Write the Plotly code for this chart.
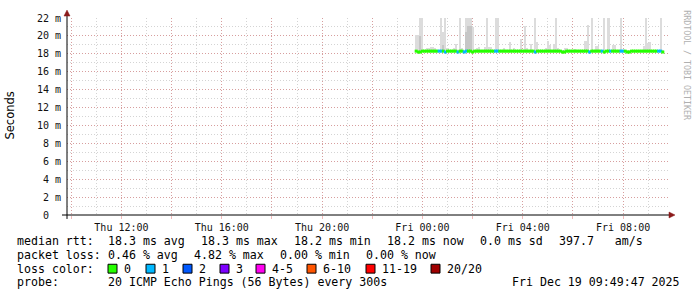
import plotly.graph_objects as go
import pandas as pd

# ---------------- data ----------------
START_TIME = "2025-12-18 23:45:00"
STEP_MIN = 5
X_RANGE = ["2025-12-18 09:49:47", "2025-12-19 09:49:47"]

MEDIAN_MS = [
    18.3, 18.2, 18.2, 18.3, 18.3, 18.3, 18.3, 18.3, 18.3, 18.3, 18.3, 18.3,
    18.3, 18.3, 18.2, 18.3, 18.3, 18.3, 18.3, 18.3, 18.2, 18.3, 18.3, 18.2,
    18.3, 18.3, 18.3, 18.2, 18.3, 18.3, 18.3, 18.3, 18.3, 18.3, 18.3, 18.3,
    18.3, 18.3, 18.3, 18.3, 18.3, 18.3, 18.3, 18.3, 18.3, 18.3, 18.3, 18.3,
    18.3, 18.3, 18.3, 18.3, 18.3, 18.3, 18.3, 18.3, 18.3, 18.2, 18.3, 18.3,
    18.3, 18.3, 18.3, 18.3, 18.3, 18.3, 18.3, 18.3, 18.3, 18.3, 18.2, 18.2,
    18.3, 18.3, 18.3, 18.3, 18.3, 18.3, 18.3, 18.3, 18.3, 18.3, 18.3, 18.2,
    18.3, 18.3, 18.3, 18.3, 18.3, 18.3, 18.2, 18.3, 18.3, 18.3, 18.3, 18.3,
    18.3, 18.3, 18.3, 18.3, 18.3, 18.2, 18.2, 18.3, 18.3, 18.3, 18.3, 18.3,
    18.3, 18.3, 18.3, 18.3, 18.3, 18.3, 18.3, 18.3, 18.3, 18.3, 18.2,
]

LOSS_COUNT = [
    0, 0, 0, 0, 0, 0, 0, 0, 0, 0, 0, 1,
    1, 0, 1, 0, 0, 0, 0, 0, 1, 0, 0, 1,
    1, 0, 0, 0, 0, 0, 0, 0, 0, 0, 0, 0,
    0, 0, 1, 1, 0, 0, 0, 0, 0, 0, 0, 0,
    0, 0, 0, 0, 0, 0, 0, 0, 0, 1, 0, 0,
    0, 0, 0, 0, 0, 0, 0, 0, 0, 0, 0, 0,
    0, 0, 0, 0, 0, 0, 0, 0, 0, 0, 0, 1,
    0, 0, 0, 0, 0, 1, 0, 0, 0, 1, 0, 0,
    0, 0, 1, 1, 0, 0, 0, 0, 0, 0, 0, 0,
    0, 0, 0, 0, 0, 0, 0, 0, 1, 1, 0,
]

SMOKE_MAX_MS = [
    20.1, 20.1, 23.0, 23.0, 18.4, 18.6, 18.6, 18.8, 18.8, 18.6, 18.4, 18.4,
    23.0, 20.4, 23.0, 18.6, 18.4, 18.4, 18.6, 19.1, 18.4, 23.0, 18.7, 18.4,
    23.0, 23.0, 23.0, 21.0, 18.4, 18.6, 18.8, 18.4, 18.4, 18.8, 23.0, 18.8,
    18.8, 18.4, 23.0, 23.0, 18.4, 18.4, 18.6, 18.4, 18.4, 19.3, 18.4, 18.6,
    18.4, 18.4, 19.7, 18.4, 21.1, 18.6, 18.4, 19.1, 18.4, 23.0, 19.3, 18.4,
    18.4, 18.4, 18.6, 19.4, 19.0, 18.4, 19.1, 23.0, 18.6, 18.4, 18.4, 18.6,
    18.6, 18.4, 18.4, 18.4, 18.5, 18.4, 18.4, 18.4, 18.4, 19.4, 21.2, 18.4,
    23.0, 18.4, 18.9, 18.9, 18.4, 18.4, 23.0, 18.4, 23.0, 18.4, 19.0, 19.0,
    18.4, 18.4, 23.0, 18.4, 18.4, 18.4, 18.4, 18.4, 18.4, 18.4, 18.4, 18.4,
    18.4, 18.9, 23.0, 19.2, 19.3, 18.4, 18.4, 18.4, 18.4, 23.0, 18.4,
]

SMOKE_MID_MS = [
    18.3, 18.2, 20.0, 18.3, 18.3, 18.3, 18.3, 18.3, 18.3, 18.3, 18.3, 18.3,
    18.3, 19.0, 18.2, 18.3, 18.3, 18.3, 18.3, 18.3, 18.2, 18.3, 18.3, 18.2,
    20.4, 21.1, 21.1, 18.2, 18.3, 18.3, 18.3, 18.3, 18.3, 18.3, 18.3, 18.3,
    18.3, 18.3, 18.3, 18.3, 18.3, 18.3, 18.3, 18.3, 18.3, 18.3, 18.3, 18.3,
    18.3, 18.3, 18.3, 18.3, 18.3, 18.3, 18.3, 18.3, 18.3, 18.2, 18.3, 18.3,
    18.3, 18.3, 18.3, 18.3, 18.3, 18.3, 18.3, 18.3, 18.3, 18.3, 18.2, 18.2,
    18.3, 18.3, 18.3, 18.3, 18.3, 18.3, 18.3, 18.3, 18.3, 18.3, 18.3, 18.2,
    18.3, 18.3, 18.3, 18.3, 18.3, 18.3, 18.2, 18.3, 18.3, 18.3, 18.3, 18.3,
    18.3, 18.3, 18.3, 18.3, 18.3, 18.2, 18.2, 18.3, 18.3, 18.3, 18.3, 18.3,
    18.3, 18.3, 18.3, 18.3, 18.3, 18.3, 18.3, 18.3, 18.3, 18.3, 18.2,
]

LOSS_LABELS = ["0", "1", "2", "3", "4-5", "6-10", "11-19", "20/20"]
LOSS_UPPER = [0, 1, 2, 3, 5, 10, 19, 20]
LOSS_COLORS = ["#26ff00", "#00b8ff", "#0059ff", "#7e00ff", "#ff00f0",
               "#ff5500", "#ff0000", "#a00000"]

Y_TICKS = [0, 2, 4, 6, 8, 10, 12, 14, 16, 18, 20, 22]
Y_TICK_LABELS = ["0\u00a0\u00a0", "2 m", "4 m", "6 m", "8 m", "10 m", "12 m",
                 "14 m", "16 m", "18 m", "20 m", "22 m"]

X_TICKS = ["2025-12-18 10:00", "2025-12-18 12:00", "2025-12-18 14:00",
           "2025-12-18 16:00", "2025-12-18 18:00", "2025-12-18 20:00",
           "2025-12-18 22:00", "2025-12-19 00:00", "2025-12-19 02:00",
           "2025-12-19 04:00", "2025-12-19 06:00", "2025-12-19 08:00"]
X_TICK_LABELS = ["", "Thu 12:00", "", "Thu 16:00", "", "Thu 20:00",
                 "", "Fri 00:00", "", "Fri 04:00", "", "Fri 08:00"]

STATS_RTT = ["median rtt:", "18.3 ms avg", "18.3 ms max", "18.2 ms min",
             "18.2 ms now", "0.0 ms sd", "397.7   am/s"]
STATS_LOSS = ["packet loss:", "0.46 % avg", "4.82 % max", "0.00 % min",
              "0.00 % now"]
LOSS_TITLE = "loss color:"
PROBE_LABEL = "probe:"
PROBE_TEXT = "20 ICMP Echo Pings (56 Bytes) every 300s"
TIMESTAMP = "Fri Dec 19 09:49:47 2025"
Y_TITLE = "Seconds"
WATERMARK = "RRDTOOL / TOBI OETIKER"

# ---------------- layout geometry (pixels) ----------------
W, H = 697, 297
PL, PR, PT, PB = 67, 669, 15, 215


def px(x):
    return (x - PL) / (PR - PL)


def py(y):
    return (PB - y) / (PB - PT)


def loss_color(n):
    for up, c in zip(LOSS_UPPER, LOSS_COLORS):
        if n <= up:
            return c
    return LOSS_COLORS[-1]


times = pd.date_range(START_TIME, periods=len(MEDIAN_MS), freq=f"{STEP_MIN}min")
step_ms = STEP_MIN * 60 * 1000

fig = go.Figure()
fig.add_trace(go.Bar(
    x=times, base=MEDIAN_MS,
    y=[mx - md for mx, md in zip(SMOKE_MAX_MS, MEDIAN_MS)],
    width=step_ms, offset=-step_ms / 2,
    marker=dict(color="#dcdcdc", line=dict(width=0)),
    hoverinfo="skip"))
fig.add_trace(go.Bar(
    x=times, base=MEDIAN_MS,
    y=[mm - md for mm, md in zip(SMOKE_MID_MS, MEDIAN_MS)],
    width=step_ms, offset=-step_ms / 2,
    marker=dict(color="#c6c6c6", line=dict(width=0)),
    hoverinfo="skip"))
fig.add_trace(go.Scatter(
    x=times, y=MEDIAN_MS, mode="markers",
    marker=dict(symbol="square", size=3,
                color=[loss_color(n) for n in LOSS_COUNT],
                line=dict(width=0)),
    hoverinfo="skip"))

MAJOR_GRID = "rgba(220,70,70,0.38)"
MINOR_GRID = "rgba(120,120,120,0.32)"
GRID_DASH = "1px,2px"
TICK_FONT = dict(family="DejaVu Sans Mono", size=10, color="#111111")

fig.update_layout(
    width=W, height=H,
    margin=dict(l=PL, r=W - PR, t=PT, b=H - PB, pad=0),
    paper_bgcolor="white", plot_bgcolor="white",
    showlegend=False, barmode="overlay", bargap=0,
    xaxis=dict(
        type="date", range=X_RANGE,
        tickmode="array", tickvals=X_TICKS, ticktext=X_TICK_LABELS,
        tickfont=TICK_FONT,
        showgrid=True, gridcolor=MAJOR_GRID, griddash=GRID_DASH, gridwidth=1,
        ticks="outside", ticklen=3, tickcolor=MAJOR_GRID,
        minor=dict(dtick=3600000, tick0="2025-12-18 00:00", showgrid=True,
                   gridcolor=MINOR_GRID, griddash=GRID_DASH, gridwidth=1,
                   ticks=""),
        showline=False, zeroline=False, fixedrange=True,
    ),
    yaxis=dict(
        range=[0, 22],
        tickmode="array", tickvals=Y_TICKS, ticktext=Y_TICK_LABELS,
        tickfont=TICK_FONT,
        showgrid=True, gridcolor=MAJOR_GRID, griddash=GRID_DASH, gridwidth=1,
        ticks="outside", ticklen=3, tickcolor="rgba(0,0,0,0)",
        minor=dict(dtick=1, showgrid=True, gridcolor=MINOR_GRID,
                   griddash=GRID_DASH, gridwidth=1, ticks=""),
        showline=False, zeroline=False, fixedrange=True,
    ),
)

# axis lines with arrow heads
AXIS_COL = "#000000"
ARROW_COL = "#8b1a1a"
shapes = [
    dict(type="line", xref="paper", yref="paper",
         x0=px(62), x1=px(671), y0=py(215), y1=py(215),
         line=dict(color=AXIS_COL, width=1)),
    dict(type="line", xref="paper", yref="paper",
         x0=px(67), x1=px(67), y0=py(219), y1=py(11),
         line=dict(color=AXIS_COL, width=1)),
    dict(type="path", xref="paper", yref="paper",
         path=f"M {px(669)} {py(212)} L {px(675)} {py(215)} L {px(669)} {py(218)} Z",
         fillcolor=ARROW_COL, line=dict(color=ARROW_COL, width=0.5)),
    dict(type="path", xref="paper", yref="paper",
         path=f"M {px(64)} {py(13)} L {px(67)} {py(7)} L {px(70)} {py(13)} Z",
         fillcolor=ARROW_COL, line=dict(color=ARROW_COL, width=0.5)),
]

LEG_FONT = dict(family="DejaVu Sans Mono", size=11.6, color="#000000")
annotations = []


def add_text(text, x, y, anchor="left", font=LEG_FONT):
    annotations.append(dict(
        text=text, xref="paper", yref="paper", x=px(x), y=py(y),
        xanchor=anchor, yanchor="middle", showarrow=False, font=font,
        borderpad=0))


# line 1 - median rtt
for t, x in zip(STATS_RTT, [16, 107, 200, 293, 386, 479, 558]):
    add_text(t, x, 241.5)
# line 2 - packet loss
for t, x in zip(STATS_LOSS, [16, 107, 193, 279, 365]):
    add_text(t, x, 255.5)
# line 3 - loss colours
add_text(LOSS_TITLE, 16, 269.5)
box_x = [108, 146, 183, 220, 256, 307, 366, 431]
for lab, col, bx in zip(LOSS_LABELS, LOSS_COLORS, box_x):
    shapes.append(dict(type="rect", xref="paper", yref="paper",
                       x0=px(bx), x1=px(bx + 9), y0=py(274), y1=py(265),
                       fillcolor=col, line=dict(color="#000000", width=1)))
    add_text(lab, bx + 15, 269.5)
# line 4 - probe
add_text(PROBE_LABEL, 16, 283)
add_text(PROBE_TEXT, 107, 283)
add_text(TIMESTAMP, 681, 283, anchor="right")

# y title
annotations.append(dict(
    text=Y_TITLE, xref="paper", yref="paper", x=px(10), y=py(114),
    xanchor="center", yanchor="middle", textangle=-90, showarrow=False,
    font=dict(family="DejaVu Sans", size=11.5, color="#000000")))
# watermark
annotations.append(dict(
    text=WATERMARK, xref="paper", yref="paper", x=px(687), y=py(5),
    xanchor="center", yanchor="top", textangle=90, showarrow=False,
    font=dict(family="DejaVu Sans Mono", size=8.3, color="#b0b0b0")))

fig.update_layout(shapes=shapes, annotations=annotations)
fig.write_html("out.html")
